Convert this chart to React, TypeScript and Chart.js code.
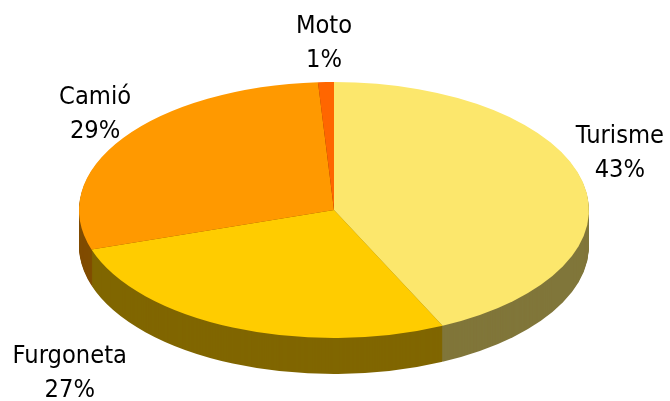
import React, { useEffect, useRef } from "react";
import { Chart, registerables } from "chart.js";

Chart.register(...registerables);

const categories = ["Turisme", "Furgoneta", "Camió", "Moto"];
const shares = [43, 27, 29, 1];
const topColors = ["#FCE76C", "#FFCC00", "#FF9900", "#FF6600"];
const sideColors = ["#80763A", "#806600", "#804C00", "#803300"];

const RX = 255;
const RY = 128;
const DEPTH = 36;
const FONT = '24px "DejaVu Sans"';
const TEXT_SQUEEZE = 0.945;
const LINE = 34;
// label baseline centre relative to the rim point at each slice's mid-angle
const labelOffsets = [
  [37, -39],
  [-163, 35.5],
  [-28, -34.5],
  [-2, -49],
];

const pie3d = {
  id: "pie3d",
  beforeDatasetsDraw(chart: any) {
    const { ctx } = chart;
    const arcs = chart.getDatasetMeta(0).data;
    const k = RY / RX;
    ctx.save();
    const cy = arcs[0].y;
    ctx.translate(0, cy);
    ctx.scale(1, k);
    ctx.translate(0, -cy);
    for (let d = DEPTH; d >= 1; d -= 1) {
      ctx.save();
      ctx.translate(0, d / k);
      arcs.forEach((arc: any, i: number) => {
        const saved = arc.options;
        arc.options = { ...saved, backgroundColor: sideColors[i], borderWidth: 0 };
        arc.draw(ctx);
        arc.options = saved;
      });
      ctx.restore();
    }
    ctx.restore();
  },
  beforeDatasetDraw(chart: any) {
    const { ctx } = chart;
    const cy = chart.getDatasetMeta(0).data[0].y;
    ctx.save();
    ctx.translate(0, cy);
    ctx.scale(1, RY / RX);
    ctx.translate(0, -cy);
  },
  afterDatasetDraw(chart: any) {
    chart.ctx.restore();
  },
  afterDraw(chart: any) {
    const { ctx } = chart;
    const arcs = chart.getDatasetMeta(0).data;
    ctx.save();
    ctx.font = FONT;
    ctx.fillStyle = "#000000";
    ctx.textAlign = "center";
    ctx.textBaseline = "alphabetic";
    arcs.forEach((arc: any, i: number) => {
      const mid = (arc.startAngle + arc.endAngle) / 2;
      const x = arc.x + RX * Math.cos(mid) + labelOffsets[i][0];
      const y = arc.y + RY * Math.sin(mid) + labelOffsets[i][1];
      ctx.save();
      ctx.translate(x, y);
      ctx.scale(TEXT_SQUEEZE, 1);
      ctx.fillText(categories[i], 0, 0);
      ctx.fillText(`${shares[i]}%`, 0, LINE);
      ctx.restore();
    });
    ctx.restore();
  },
};

export default function App() {
  const ref = useRef<HTMLCanvasElement | null>(null);
  useEffect(() => {
    document.body.style.margin = "0";
    const chart = new Chart(ref.current as HTMLCanvasElement, {
      type: "pie",
      data: {
        labels: categories,
        datasets: [
          {
            data: shares,
            backgroundColor: topColors,
            borderWidth: 0,
            radius: RX,
            clip: false,
          } as any,
        ],
      },
      options: {
        responsive: false,
        animation: false,
        events: [],
        layout: { padding: { top: 19, right: 2 } },
        plugins: { legend: { display: false }, tooltip: { enabled: false } },
      },
      plugins: [pie3d],
    });
    return () => chart.destroy();
  }, []);
  return (
    <div style={{ width: 670, height: 401, background: "#fff" }}>
      <canvas ref={ref} width={670} height={401} style={{ display: "block" }} />
    </div>
  );
}
